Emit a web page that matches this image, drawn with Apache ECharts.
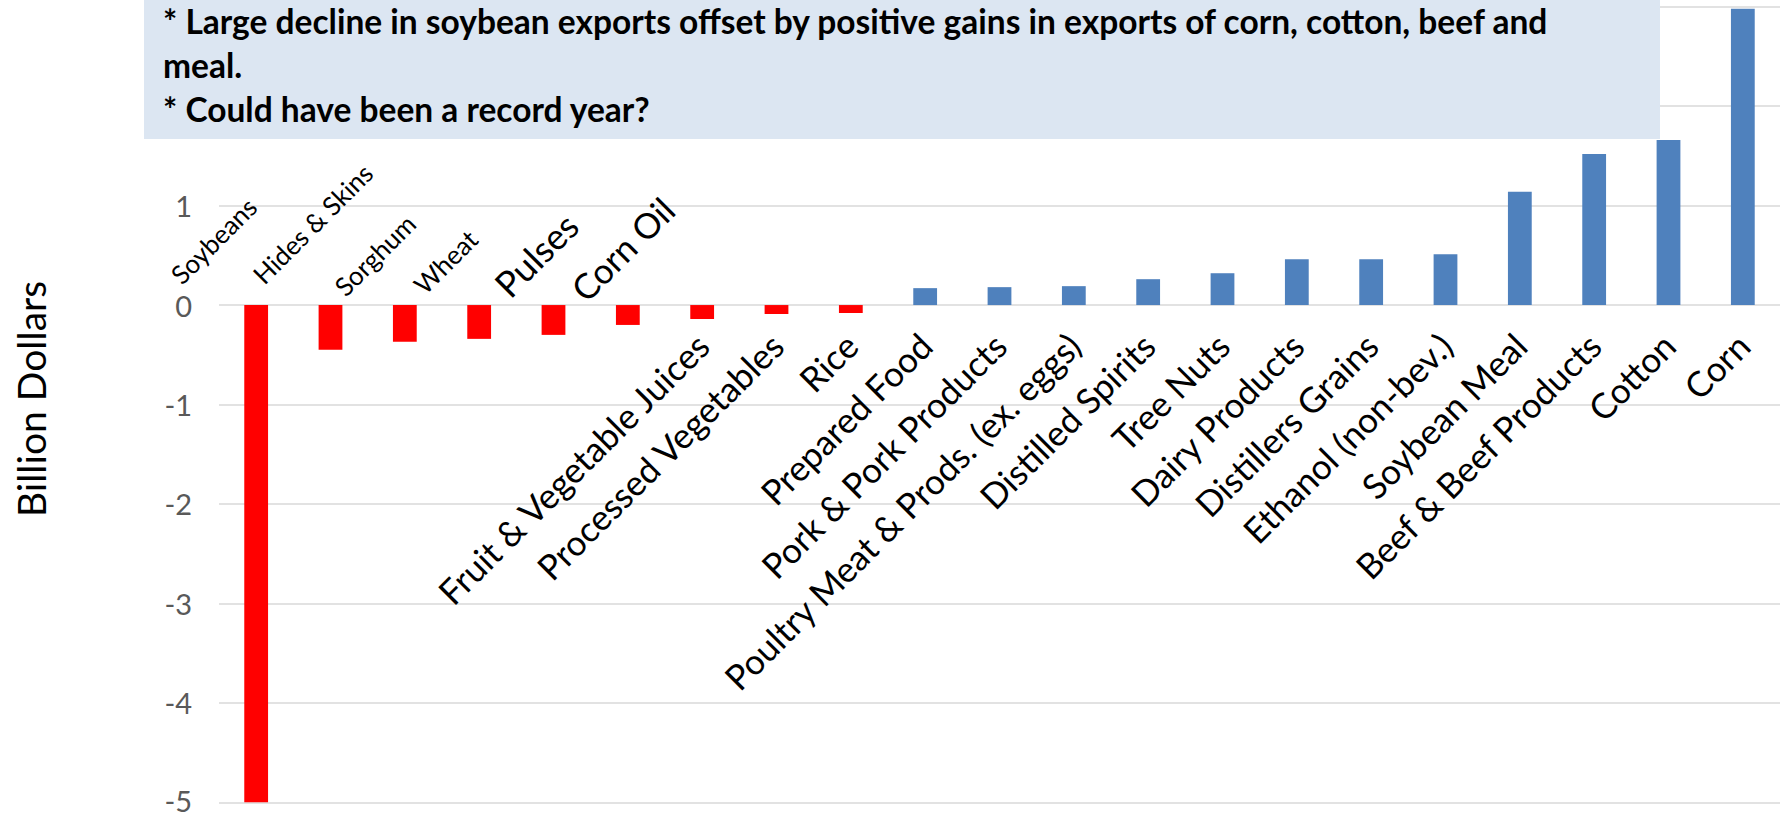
<!DOCTYPE html>
<html>
<head>
<meta charset="utf-8">
<script src="https://cdn.jsdelivr.net/npm/echarts@6/dist/echarts.min.js"></script>
<style>
  html, body { margin: 0; padding: 0; background: #ffffff; }
  #chart { width: 1785px; height: 813px; }
</style>
</head>
<body>
<div id="chart"></div>
<script>
// ---- data ----
const categories = [
  'Soybeans', 'Hides & Skins', 'Sorghum', 'Wheat', 'Pulses', 'Corn Oil',
  'Fruit & Vegetable Juices', 'Processed Vegetables', 'Rice', 'Prepared Food',
  'Pork & Pork Products', 'Poultry Meat & Prods. (ex. eggs)', 'Distilled Spirits',
  'Tree Nuts', 'Dairy Products', 'Distillers Grains', 'Ethanol (non-bev.)',
  'Soybean Meal', 'Beef & Beef Products', 'Cotton', 'Corn'
];
const changeValues = [
  -5.0, -0.45, -0.37, -0.34, -0.30, -0.20,
  -0.14, -0.09, -0.08, 0.17,
  0.18, 0.19, 0.26,
  0.32, 0.46, 0.46, 0.51,
  1.14, 1.52, 1.66, 2.98
];
const yAxisMin = -5;
const yAxisMax = 3;
const yAxisStep = 1;
const yAxisTitle = 'Billion Dollars';
const noteLines = [
  '* Large decline in soybean exports offset by positive gains in exports of corn, cotton, beef and',
  'meal.',
  '* Could have been a record year?'
];

// ---- styles ----
const FONT = 'Lato, "Open Sans", sans-serif';
// labels of the first six categories sit above the zero line, reading up from their start
const upperLabelStyle = [
  { dx: -81, dy: -26, size: 26 },
  { dx: -73, dy: -26, size: 26 },
  { dx: -66, dy: -14, size: 26 },
  { dx: -61, dy: -16, size: 26 },
  { dx: -53, dy: -15, size: 36 },
  { dx: -51, dy: -11, size: 35 }
];
// the other labels hang below the zero line, ending at their tick
const lowerLabelStyle = { dx: 0, dy: 34, size: 35 };

const chart = echarts.init(document.getElementById('chart'), null, { renderer: 'svg' });

const option = {
  animation: false,
  backgroundColor: '#ffffff',
  grid: { left: 219, right: 5, top: 6.7, bottom: 10.7, containLabel: false, outerBoundsMode: 'none' },
  xAxis: {
    type: 'category',
    data: categories,
    axisLine: { show: false },
    axisTick: { show: false },
    axisLabel: { show: false },
    splitLine: { show: false }
  },
  yAxis: {
    type: 'value',
    min: yAxisMin,
    max: yAxisMax,
    interval: yAxisStep,
    axisLine: { show: false },
    axisTick: { show: false },
    axisLabel: {
      fontFamily: FONT, fontSize: 29, lineHeight: 21, color: '#595959', margin: 27,
      // 2 and 3 sit under the note box in the original; the bottom one is kept inside the frame
      formatter: function (v) {
        if (v >= 2) return '';
        return v === yAxisMin ? '{low|' + v + '}' : String(v);
      },
      rich: { low: { fontFamily: FONT, fontSize: 29, color: '#595959', lineHeight: 21, padding: [0, 0, 4, 0] } }
    },
    splitLine: { show: true, lineStyle: { color: '#D9D9D9', width: 1.5 } }
  },
  series: [{
    type: 'bar',
    data: changeValues,
    barWidth: '32%',
    clip: true,
    itemStyle: {
      color: function (p) { return p.value < 0 ? '#FF0000' : '#4F81BD'; }
    }
  }]
};
chart.setOption(option);

const graphics = [];
// note box
graphics.push({
  type: 'rect', z: 100,
  shape: { x: 144, y: 0, width: 1516, height: 139 },
  style: { fill: '#DCE6F2' }
});
const noteSize = 33.5;
const noteBaselines = [30.7, 75.5, 119];
noteLines.forEach(function (line, k) {
  graphics.push({
    type: 'text', z: 101,
    x: 163, y: noteBaselines[k] - 0.3 * noteSize,
    style: {
      text: line, fontFamily: FONT, fontSize: noteSize, fontWeight: 'bold',
      fill: '#000000', align: 'left', verticalAlign: 'middle'
    }
  });
});
// y-axis title
graphics.push({
  type: 'text', z: 50,
  x: 31, y: 399, rotation: Math.PI / 2,
  style: {
    text: yAxisTitle, fontFamily: FONT, fontSize: 39, fill: '#000000',
    align: 'center', verticalAlign: 'middle'
  }
});
// category labels, placed from the category axis and the value axis
for (let i = 0; i < categories.length; i++) {
  const p = chart.convertToPixel({ xAxisIndex: 0, yAxisIndex: 0 }, [i, 0]);
  const upper = i < upperLabelStyle.length;
  const s = upper ? upperLabelStyle[i] : lowerLabelStyle;
  graphics.push({
    type: 'text', z: 50,
    x: p[0] + s.dx, y: p[1] + s.dy, rotation: Math.PI / 4,
    style: {
      text: categories[i], fontFamily: FONT, fontSize: s.size, fill: '#000000',
      align: upper ? 'left' : 'right', verticalAlign: 'middle'
    }
  });
}
chart.setOption({ graphic: graphics });
</script>
</body>
</html>
